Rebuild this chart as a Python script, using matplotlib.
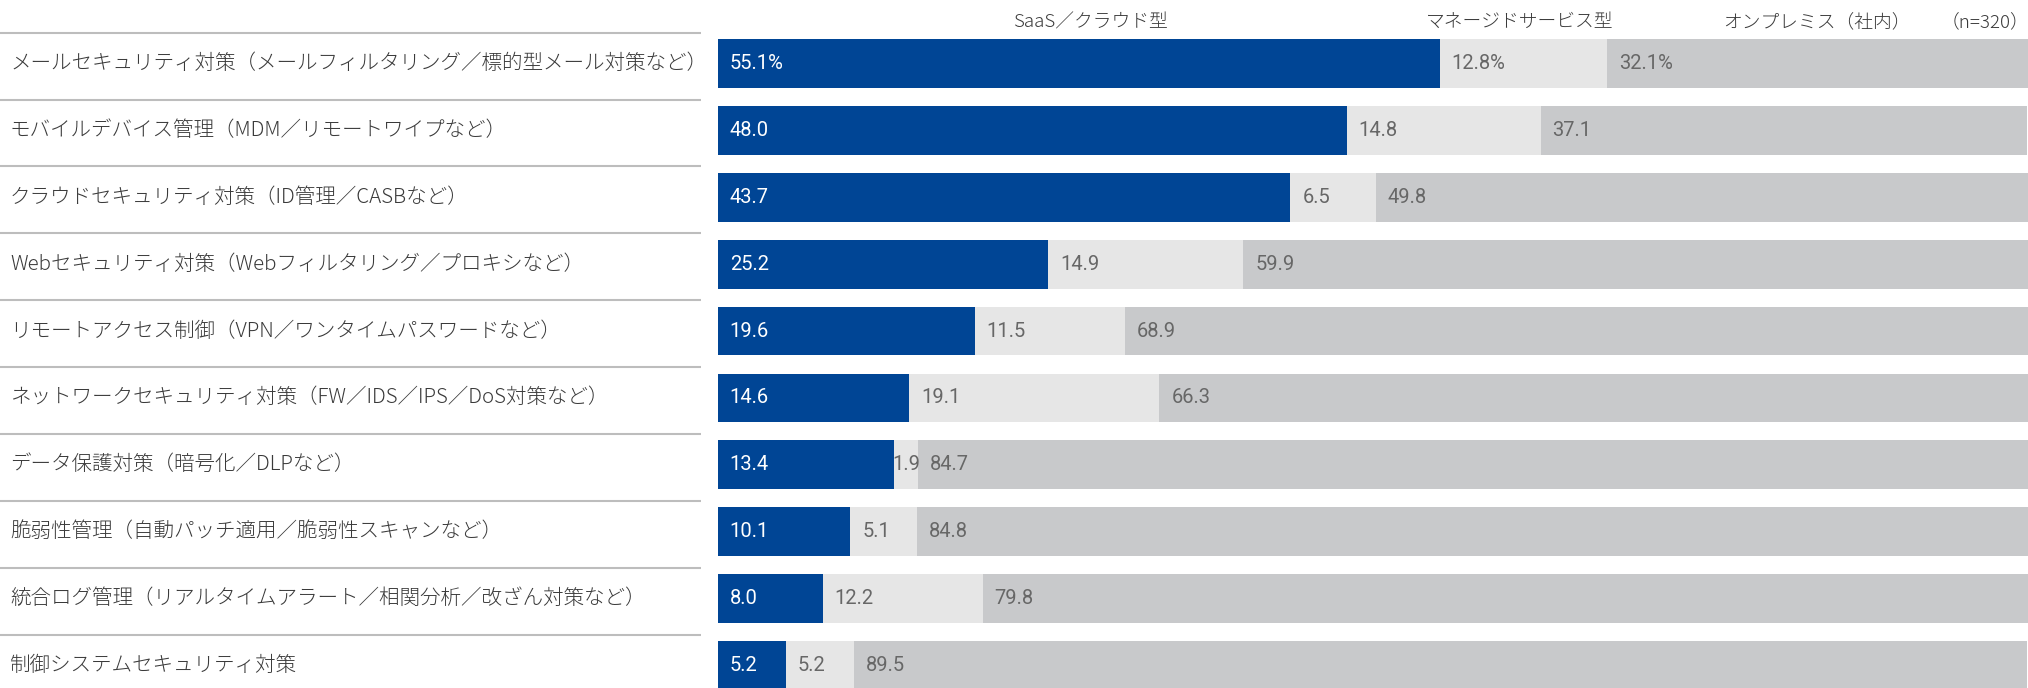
import matplotlib
matplotlib.use("Agg")
import matplotlib.pyplot as plt

plt.rcParams['font.family'] = ['Noto Sans CJK JP', 'DejaVu Sans']

categories = [
    "メールセキュリティ対策（メールフィルタリング／標的型メール対策など）",
    "モバイルデバイス管理（MDM／リモートワイプなど）",
    "クラウドセキュリティ対策（ID管理／CASBなど）",
    "Webセキュリティ対策（Webフィルタリング／プロキシなど）",
    "リモートアクセス制御（VPN／ワンタイムパスワードなど）",
    "ネットワークセキュリティ対策（FW／IDS／IPS／DoS対策など）",
    "データ保護対策（暗号化／DLPなど）",
    "脆弱性管理（自動パッチ適用／脆弱性スキャンなど）",
    "統合ログ管理（リアルタイムアラート／相関分析／改ざん対策など）",
    "制御システムセキュリティ対策",
]
saas = [55.1, 48.0, 43.7, 25.2, 19.6, 14.6, 13.4, 10.1, 8.0, 5.2]
managed = [12.8, 14.8, 6.5, 14.9, 11.5, 19.1, 1.9, 5.1, 12.2, 5.2]
onprem = [32.1, 37.1, 49.8, 59.9, 68.9, 66.3, 84.7, 84.8, 79.8, 89.5]
series_names = ["SaaS／クラウド型", "マネージドサービス型", "オンプレミス（社内）"]
n_label = "（n=320）"

W, H = 2028, 688
fig = plt.figure(figsize=(W / 100, H / 100), dpi=100)

bar_left = 718 / W
y_top = -0.948
y_bot = 9.336

ax = fig.add_axes([bar_left, 0, 1 - bar_left, 1])
axl = fig.add_axes([0, 0, bar_left, 1])

colors = ["#004595", "#e6e6e6", "#c8c9cb"]
txt_colors = ["white", "#676767", "#676767"]
ypos = list(range(len(categories)))
h = 0.73

lefts = [0.0] * len(categories)
for s, (vals, c, tc) in enumerate(zip([saas, managed, onprem], colors, txt_colors)):
    ax.barh(ypos, vals, left=lefts, height=h, color=c, edgecolor='none')
    for i, (v, l) in enumerate(zip(vals, lefts)):
        label = f"{v:.1f}%" if i == 0 else f"{v:.1f}"
        if v < 3:
            xy, off, ha = (l + v / 2, i), (0, 0), 'center'
        else:
            xy, off, ha = (l, i), (8.5, 0), 'left'
        ax.annotate(label, xy=xy, xytext=off,
                    textcoords='offset points', ha=ha, va='center',
                    color=tc, fontsize=14.5, family=['Roboto', 'DejaVu Sans'])
    lefts = [a + b for a, b in zip(lefts, vals)]

ax.set_xlim(0, 100)
ax.set_ylim(y_bot, y_top)
ax.axis('off')

axl.set_xlim(0, 718)
axl.set_ylim(y_bot, y_top)
axl.axis('off')
for i, cat in enumerate(categories):
    axl.text(10, i, cat, ha='left', va='center', fontsize=14.8, color='#3a3a3a',
             fontweight='light')
    axl.plot([0, 701], [i - 0.46, i - 0.46], color='#bdbdbd', lw=1.5,
             solid_capstyle='butt')

hy = 1 - 22 / H
for name, xc in zip(series_names, [1090, 1520, 1817]):
    fig.text(xc / W, hy, name, ha='center', va='center', fontsize=13.5,
             color='#3a3a3a', fontweight='light')
fig.text(1985 / W, hy, n_label, ha='center', va='center', fontsize=13.5,
         color='#3a3a3a', fontweight='light')

fig.savefig("out.png", dpi=100)
